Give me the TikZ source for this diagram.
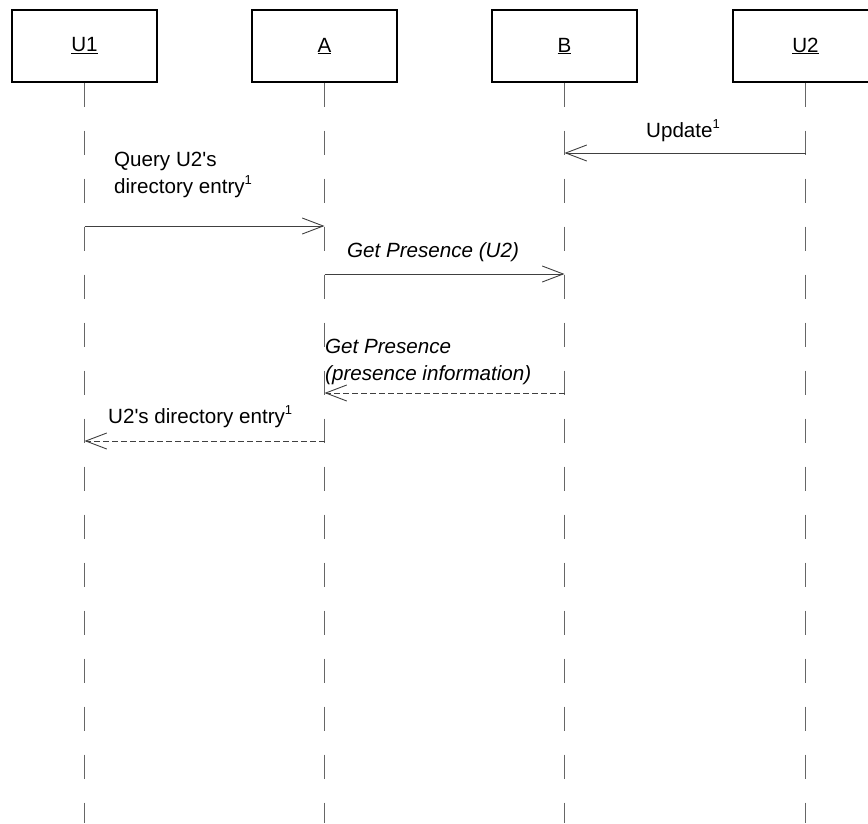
\documentclass[tikz,border=0pt]{standalone}
\usepackage{fontspec}
\setmainfont{Liberation Sans}[Ligatures=TeXOff]
\usetikzlibrary{arrows.meta}
% footnote marker used in the message labels
\newcommand\noteref{\raisebox{0.42em}{\fontsize{13}{13}\selectfont 1}}

\begin{document}
\begin{tikzpicture}[x=1pt,y=-1pt,
  actor/.style={draw=black, line width=1.3pt, minimum width=145pt, minimum height=72pt,
    inner sep=0pt, font=\fontsize{20.6}{24}\selectfont},
  lifeline/.style={draw=black!60, line width=1pt, dash pattern=on 24pt off 24pt},
  msg/.style={draw=black!75, line width=0.9pt,
    -{Straight Barb[length=21pt,width=16pt,line width=0.9pt]}},
  reply/.style={msg, dash pattern=on 6pt off 3pt},
  lbl/.style={inner sep=0pt, font=\fontsize{20.6}{27}\selectfont, align=left},
  ilbl/.style={lbl, font=\fontsize{20.6}{27}\selectfont\itshape}]

\useasboundingbox (0,0) rectangle (868,823);

% participants
\node[actor] (u1) at (84.5,46)  {\underline{U1}};
\node[actor] (a)  at (324.5,46) {\underline{A}};
\node[actor] (b)  at (564.5,46) {\underline{B}};
\node[actor] (u2) at (805.5,46) {\underline{U2}};

% lifelines
\coordinate (bottom) at (0,823);
\foreach \n in {u1,a,b,u2}
  \draw[lifeline] (\n.south) -- (\n.south |- bottom);

% message rows
\coordinate (m1) at (0,153);
\coordinate (m2) at (0,226);
\coordinate (m3) at (0,274);
\coordinate (m4) at (0,393);
\coordinate (m5) at (0,441);

\draw[msg]   (u2 |- m1) -- (b |- m1);
\draw[msg]   (u1 |- m2) -- (a |- m2);
\draw[msg]   (a |- m3)  -- (b |- m3);
\draw[reply] (b |- m4)  -- (a |- m4);
\draw[reply] (a |- m5)  -- (u1 |- m5);

% labels (base anchor of a two-line label sits on its last line)
\node[lbl, anchor=base]       (t1) at (683,137) {Update\noteref};
\node[lbl, anchor=base west]  (t2) at (114,193) {Query U2's\\directory entry\noteref};
\node[ilbl, anchor=base west] (t3) at (347,257) {Get Presence (U2)};
\node[ilbl, anchor=base west] (t4) at (325,380) {Get Presence\\(presence information)};
\node[lbl, anchor=base west]  (t5) at (108,423) {U2's directory entry\noteref};
\end{tikzpicture}
\end{document}
